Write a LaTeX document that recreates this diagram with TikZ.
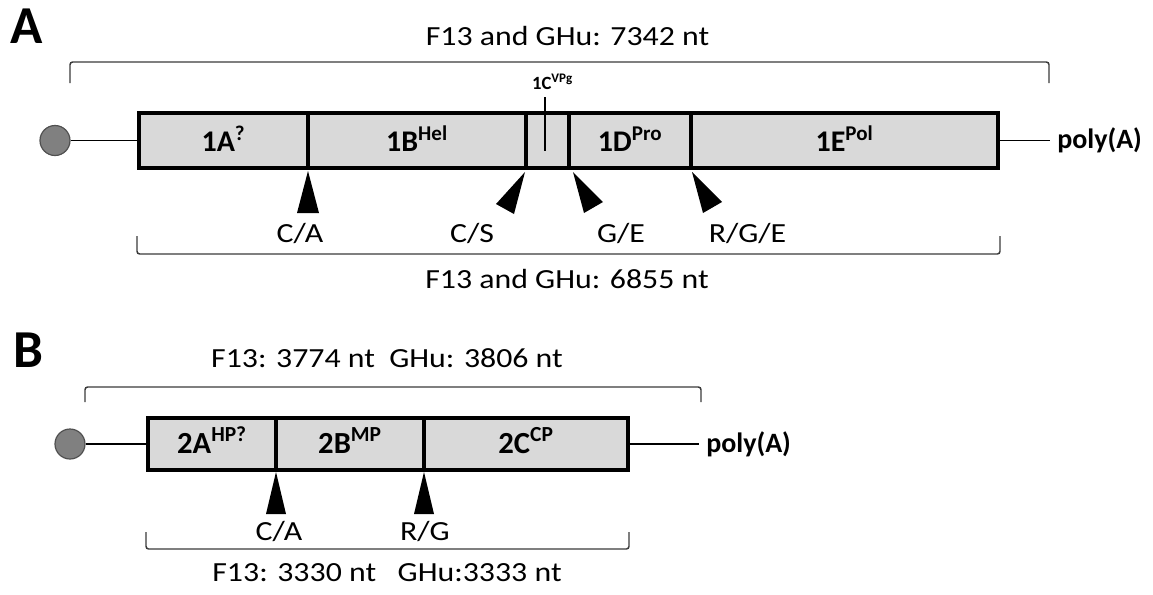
\documentclass[tikz,border=0pt]{standalone}
\usepackage{fontspec}
\setmainfont{Carlito}
\newfontfamily\widefont{Carlito}[FakeStretch=1.15]
\definecolor{segfill}{HTML}{D9D9D9}
\definecolor{capfill}{HTML}{808080}
\definecolor{capedge}{HTML}{505050}
\definecolor{bracketline}{HTML}{3A3A3A}

\begin{document}
\begin{tikzpicture}[
  x=0.75pt,
  y=-0.75pt,
  segment/.style={draw=black,line width=3.4pt,fill=segfill,inner sep=0pt,minimum height=41.25pt,text height=15.75pt,text depth=0pt,font=\bfseries\fontsize{22.5}{26}\selectfont},
  segmentB/.style={segment,minimum height=39pt,text height=14.5pt,font=\bfseries\fontsize{23}{27}\selectfont},
  vpgcap/.style={circle,draw=capedge,line width=0.9pt,fill=capfill,minimum size=22.5pt,inner sep=0pt},
  tether/.style={draw=black,line width=1.1pt},
  polya/.style={anchor=west,inner xsep=5.25pt,inner ysep=0pt,font=\bfseries\fontsize{21}{25}\selectfont},
  cut/.style={fill=black},
  cutlabel/.style={anchor=base,inner sep=0pt,font=\widefont\fontsize{20.75}{24}\selectfont},
  sizetext/.style={anchor=base,inner sep=0pt,font=\widefont\fontsize{20.75}{24}\selectfont},
  bracket/.style={draw=bracketline,line width=1.1pt,rounded corners=2pt},
  panel/.style={anchor=base west,inner sep=0pt,font=\bfseries\fontsize{40}{45}\selectfont},
  vpglabel/.style={anchor=base,inner sep=0pt,font=\bfseries\fontsize{14}{16}\selectfont},
  vpgtick/.style={draw=black,line width=1.3pt}
]
  \useasboundingbox (0,0) rectangle (1153,594);

  % A: genomic RNA1
  \node[panel] (panelA) at (10,43) {A};
  \node[sizetext] (lenA) at (567.5,45) {F13 and GHu: 7342 nt};
  \draw[bracket] (70,83) -- (70,62) -- (1049,62) -- (1049,83);

  \node[segment,minimum width=126.75pt] (s1A) at (223.5,140.5) {1A\textsuperscript{?}};
  \node[segment,minimum width=163.5pt] (s1B) at (417,140.5) {1B\textsuperscript{Hel}};
  \node[segment,minimum width=32.25pt] (s1C) at (547.5,140.5) {};
  \node[segment,minimum width=91.5pt] (s1D) at (630,140.5) {1D\textsuperscript{Pro}};
  \node[segment,minimum width=230.25pt] (s1E) at (844.5,140.5) {1E\textsuperscript{Pol}};

  \node[vpgcap] (capA) at (55,140.5) {};
  \node[polya] (polyA) at (1050,140.5) {poly(A)};
  \draw[tether] (capA) -- (s1A);
  \draw[tether] (s1E) -- (polyA);

  \node[vpglabel] (vpg) at (552.5,89) {1C\textsuperscript{VPg}};
  \coordinate (vpgtop) at (545,97);
  \coordinate (vpgend) at (545,151);
  \draw[vpgtick] (vpgtop) -- (vpgend);

  \fill[cut] (308,171) -- (297,213) -- (319,213) -- cycle;
  \fill[cut] (525,172) -- (496,204) -- (514,214) -- cycle;
  \fill[cut] (573,172) -- (584,213) -- (603,202) -- cycle;
  \fill[cut] (692,172) -- (703,213) -- (722,202) -- cycle;

  \node[cutlabel] (cutCA) at (300,242) {C/A};
  \node[cutlabel] (cutCS) at (472,242) {C/S};
  \node[cutlabel] (cutGE) at (621,242) {G/E};
  \node[cutlabel] (cutRGE) at (747.5,242) {R/G/E};

  \draw[bracket] (137,236) -- (137,254) -- (1000,254) -- (1000,236);
  \node[sizetext] (cdsA) at (567,288) {F13 and GHu: 6855 nt};

  % B: genomic RNA2
  \node[panel] (panelB) at (13,367) {B};
  \node[sizetext] (lenB) at (387,367) {F13: 3774 nt\ \ GHu: 3806 nt};
  \draw[bracket] (85,402) -- (85,387) -- (701,387) -- (701,402);

  \node[segmentB,minimum width=96pt] (s2A) at (212,444) {2A\textsuperscript{HP?}};
  \node[segmentB,minimum width=111pt] (s2B) at (350,444) {2B\textsuperscript{MP}};
  \node[segmentB,minimum width=153pt] (s2C) at (526,444) {2C\textsuperscript{CP}};

  \node[vpgcap] (capB) at (70,444) {};
  \node[polya] (polyB) at (699,444) {poly(A)};
  \draw[tether] (capB) -- (s2A);
  \draw[tether] (s2C) -- (polyB);

  \fill[cut] (276,472) -- (266,514) -- (286,514) -- cycle;
  \fill[cut] (424,472) -- (414,514) -- (434,514) -- cycle;

  \node[cutlabel] (cutCA2) at (279,540) {C/A};
  \node[cutlabel] (cutRG) at (425,540) {R/G};

  \draw[bracket] (146,532) -- (146,549) -- (629,549) -- (629,532);
  \node[sizetext] (cdsB) at (387,581) {F13: 3330 nt\ \ \ GHu:3333 nt};
\end{tikzpicture}
\end{document}
